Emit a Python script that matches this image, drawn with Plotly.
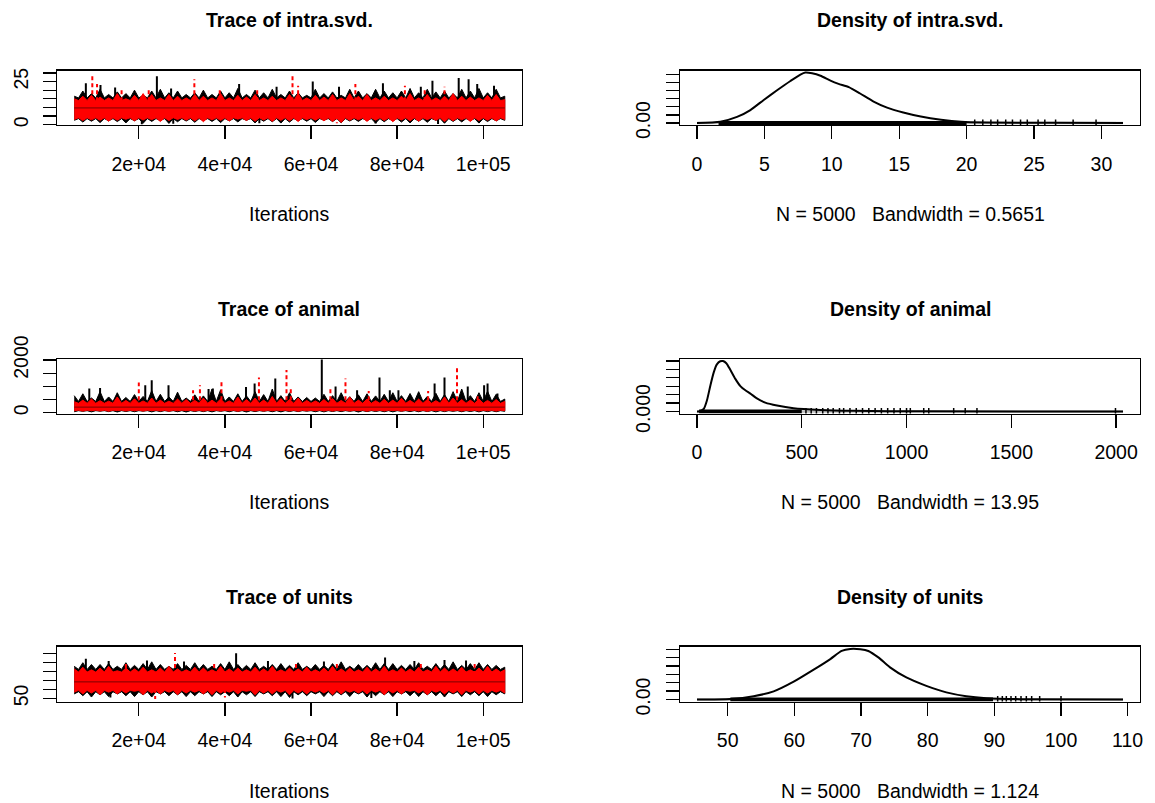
import plotly.graph_objects as go

W, H = 1155, 803

# ---------------- data ----------------
iter_grid = list(range(5000, 105001, 2000))  # thinned iteration grid (51 points)
half_step = 1000

# Trace of intra.svd.  (chain 1 black, chain 2 red): local maxima / minima per grid point
intra_black_top = [16.5, 19.5, 18.0, 20.5, 17.5, 19.0, 18.0, 20.0, 17.0, 19.5, 20.5, 18.5, 19.5, 17.5, 18.5, 20.0, 17.5,
                   19.5, 18.5, 21.0, 17.5, 20.0, 18.5, 20.5, 17.5, 19.5, 18.5, 17.0, 20.5, 18.0, 19.0, 17.0, 20.5, 19.5,
                   18.0, 20.5, 19.5, 18.5, 19.5, 21.0, 18.5, 20.5, 19.0, 19.5, 18.0, 20.5, 19.5, 21.0, 18.5, 20.5, 16.5]
intra_red_top = [15.0, 16.5, 17.0, 16.0, 15.5, 18.0, 15.0, 17.0, 18.0, 17.5, 15.5, 17.5, 16.5, 15.5, 17.5, 16.5, 15.5,
                 18.0, 15.5, 17.0, 16.0, 17.5, 15.5, 16.5, 15.5, 17.5, 18.0, 15.5, 17.0, 16.0, 17.5, 15.5, 18.0, 16.5,
                 17.5, 15.5, 16.5, 15.5, 16.5, 18.0, 15.5, 17.5, 15.5, 16.5, 18.0, 16.5, 16.0, 15.5, 17.0, 17.5, 14.5]
intra_black_bot = [2.5, 1.5, 2.0, 1.2, 2.2, 1.8, 1.0, 2.3, 0.8, 1.9, 2.4, 0.7, 1.7, 2.1, 1.4, 2.4, 1.9, 1.2, 2.2, 1.6,
                   2.5, 1.0, 2.0, 1.7, 0.9, 1.5, 2.3, 2.0, 1.3, 2.6, 1.8, 1.1, 2.1, 1.9, 2.4, 0.9, 1.7, 2.2, 1.5, 1.0,
                   2.0, 1.4, 2.5, 0.8, 1.9, 1.6, 2.4, 0.9, 1.8, 2.2, 2.5]
intra_red_bot = [3.0, 2.4, 2.8, 2.5, 2.0, 2.6, 3.1, 2.2, 2.7, 2.9, 1.8, 2.4, 3.0, 2.6, 2.2, 1.7, 2.8, 2.5, 2.1, 3.2,
                 2.4, 2.0, 2.7, 1.9, 2.5, 2.3, 1.8, 2.9, 2.6, 2.2, 1.8, 1.2, 2.5, 2.8, 1.9, 2.6, 2.4, 1.7, 2.7, 2.3,
                 2.0, 2.9, 2.5, 1.8, 2.2, 2.8, 1.8, 2.4, 2.6, 2.1, 3.0]
intra_black_core = [3.5, 15.5]   # typical band (bottom, top) between the local extremes
intra_red_core = [4.0, 14.0]
intra_black_spike_it = [7700, 11100, 14500, 24200, 27500, 43300, 52000, 60400, 66500, 76700, 85500, 88200, 94300,
                        96600, 98600, 102500, 20700, 28000, 48000, 75000, 89500]
intra_black_spike_val = [24.0, 23.0, 21.5, 28.0, 21.0, 23.5, 22.0, 25.0, 22.0, 24.0, 22.0, 25.4, 27.0, 26.3, 23.5,
                         22.5, 0.3, 0.5, 0.8, 0.6, 0.4]
intra_red_spike_it = [9200, 10300, 16000, 22300, 32900, 38800, 47500, 55700, 57000, 70300, 81800, 86400, 91000, 66000]
intra_red_spike_val = [29.6, 23.5, 21.0, 20.5, 26.3, 21.0, 20.5, 29.6, 22.5, 23.5, 22.5, 21.0, 22.0, 0.8]
intra_means = [9.7, 9.5]

# Trace of animal
animal_black_top = [650, 720, 560, 800, 600, 760, 580, 690, 620, 840, 700, 600, 780, 560, 680, 640, 900, 870, 600,
                    720, 640, 800, 690, 900, 650, 760, 600, 580, 560, 700, 650, 760, 610, 680, 720, 640, 700, 760,
                    650, 730, 800, 620, 740, 690, 800, 900, 650, 760, 820, 700, 520]
animal_red_top = [420, 480, 520, 460, 440, 600, 470, 530, 450, 560, 480, 440, 520, 500, 470, 560, 480, 520, 450, 600,
                  500, 560, 480, 620, 540, 500, 560, 470, 450, 500, 540, 470, 600, 480, 520, 460, 510, 480, 550, 470,
                  520, 500, 460, 600, 560, 500, 480, 520, 470, 500, 430]
animal_black_bot = [40, 55, 35, 60, 45, 30, 50, 40, 60, 35, 45, 55, 40, 30, 50, 45, 35, 55, 40, 50, 30, 45, 55, 40,
                    35, 50, 45, 60, 40, 35, 50, 45, 55, 30, 45, 50, 40, 35, 55, 45, 40, 50, 35, 45, 55, 40, 50, 35,
                    45, 40, 55]
animal_red_bot = [75, 65, 80, 70, 60, 85, 70, 75, 65, 80, 70, 60, 75, 85, 70, 65, 80, 70, 75, 60, 80, 70, 65, 75,
                  85, 70, 60, 75, 80, 70, 65, 75, 70, 80, 60, 75, 70, 85, 65, 75, 70, 60, 80, 70, 75, 65, 80, 70,
                  75, 65, 80]
animal_black_core = [80, 430]
animal_red_core = [100, 360]
animal_black_spike_it = [8500, 11000, 21500, 23000, 26900, 36200, 37200, 44900, 46900, 51700, 62500, 65700, 70700,
                         75900, 78300, 80300, 88700, 91000, 96400, 100200, 101000, 103300]
animal_black_spike_val = [920, 940, 1045, 1235, 1045, 900, 920, 980, 1110, 1300, 2020, 1000, 850, 1340, 850, 850,
                          1110, 1340, 1000, 1045, 1110, 730]
animal_red_spike_it = [20000, 32600, 34200, 39200, 47900, 54300, 55300, 64500, 68000, 73400, 87200, 93900, 98700]
animal_red_spike_val = [1150, 850, 1045, 1200, 1340, 1620, 980, 900, 1300, 830, 830, 1745, 700]
animal_means = [215, 210]

# Trace of units
units_black_top = [86, 90, 88, 88, 89, 86, 90, 87, 89, 91, 88, 86, 89, 87, 90, 88, 86, 89, 91, 88, 87, 90, 86, 88,
                   89, 87, 90, 86, 88, 87, 89, 91, 86, 88, 87, 90, 89, 89, 87, 88, 90, 86, 89, 88, 91, 87, 89, 90,
                   88, 87, 85]
units_red_top = [83, 85, 82, 84, 86, 81, 84, 83, 85, 82, 84, 86, 83, 82, 85, 84, 82, 86, 83, 84, 82, 85, 83, 86, 82,
                 84, 83, 85, 82, 84, 86, 83, 84, 82, 85, 83, 86, 82, 84, 83, 85, 82, 86, 84, 83, 85, 82, 84, 86, 83,
                 82]
units_black_bot = [55, 53, 51.5, 54, 52, 55, 53, 52, 54, 51.5, 55, 53, 54, 52, 53, 55, 52, 54, 53, 51.5, 54, 52, 55,
                   53, 52, 51, 54, 53, 55, 52, 53, 54, 52, 55, 51.5, 53, 54, 52, 55, 53, 52, 54, 53, 51.5, 55, 52, 54,
                   53, 52, 54, 55]
units_red_bot = [57, 55, 56, 54, 57, 55, 56, 58, 54, 56, 55, 57, 54, 56, 57, 55, 54, 56, 57, 55, 58, 54, 56, 55, 57,
                 54, 56, 55, 57, 56, 54, 55, 57, 56, 55, 57, 54, 56, 55, 58, 56, 54, 57, 55, 56, 54, 57, 55, 56, 57,
                 56]
units_black_core = [57.5, 82.5]
units_red_core = [59.0, 79.5]
units_black_spike_it = [7700, 13000, 21900, 30500, 42600, 50000, 63000, 77200, 84000, 91000, 96000, 13400, 55700,
                        74000]
units_black_spike_val = [94.5, 92, 92.5, 91.5, 100.5, 92, 91.5, 96, 92, 93, 92.5, 51, 49.8, 50.5]
units_red_spike_it = [17000, 28400, 37500, 56500, 66000, 85500, 98000, 23800, 40000]
units_red_spike_val = [89, 101, 89, 88.5, 89, 89.5, 90, 49.3, 51]
units_means = [68.5, 68.3]

# Densities
intra_dens_x = [0.0, 1.73, 2.97, 3.96, 4.95, 5.94, 6.93, 7.67, 8.04, 8.54, 9.16, 9.9, 10.5, 11.26, 12.1, 13.1, 14.1,
                15.3, 16.6, 18.1, 19.6, 21.5, 26.5, 31.6]
intra_dens_y = [0.0, 0.003, 0.015, 0.032, 0.057, 0.081, 0.104, 0.120, 0.125, 0.123, 0.117, 0.105, 0.097, 0.089,
                0.073, 0.053, 0.038, 0.026, 0.016, 0.008, 0.003, 0.0012, 0.0004, 0.0]
animal_dens_x = [0, 8, 32, 48, 64, 80, 95, 111, 124, 140, 159, 183, 207, 231, 255, 286, 326, 382, 461, 589, 748,
                 1066, 2033]
animal_dens_y = [0.0, 0.0, 0.0003, 0.00136, 0.0031, 0.00465, 0.0056, 0.00597, 0.006, 0.00574, 0.00496, 0.00388,
                 0.00302, 0.00252, 0.00213, 0.00155, 0.00105, 0.0007, 0.00039, 0.00019, 0.00008, 0.00002, 0.0]
units_dens_x = [45.4, 50.4, 53.9, 56.9, 59.9, 62.9, 65.4, 67.1, 68.4, 69.9, 71.1, 72.6, 74.3, 76.8, 79.8, 82.8,
                85.8, 88.8, 93.8, 109.3]
units_dens_y = [0.0, 0.0006, 0.0039, 0.0097, 0.0213, 0.0357, 0.0484, 0.0581, 0.0605, 0.0601, 0.0581, 0.0504,
                0.0388, 0.0264, 0.0163, 0.0085, 0.0039, 0.0016, 0.0004, 0.0]

# rug of observations: dense stretch + isolated values
intra_rug_dense = [1.6, 20.0]
intra_rug_sparse = [20.6, 21.2, 21.8, 22.3, 22.9, 23.4, 24.0, 24.5, 25.3, 25.8, 26.6, 27.9, 29.6]
animal_rug_dense = [10, 500]
animal_rug_sparse = [520, 545, 570, 600, 625, 650, 680, 700, 730, 760, 790, 820, 850, 880, 910, 940, 970, 1000,
                     1018, 1082, 1106, 1225, 1280, 1336, 1997]
units_rug_dense = [50.4, 89.8]
units_rug_sparse = [90.5, 91.2, 91.8, 92.5, 93.2, 94.0, 94.8, 95.6, 96.8, 100.0]

panel_names = ["intra.svd.", "animal", "units"]
bandwidths = ["0.5651", "13.95", "1.124"]
n_samples = 5000

trace_xticks = [20000, 40000, 60000, 80000, 100000]
trace_xtick_text = ["2e+04", "4e+04", "6e+04", "8e+04", "1e+05"]
trace_yticks = [[0, 5, 10, 15, 20, 25, 30], [0, 500, 1000, 1500, 2000], [50, 60, 70, 80, 90, 100]]
trace_ytick_text = [["0", "", "", "", "", "25", ""], ["0", "", "", "", "2000"], ["50", "", "", "", "", ""]]
trace_yrange = [[-0.2, 31.4], [-27, 2038], [46.5, 108.2]]

dens_xticks = [[0, 5, 10, 15, 20, 25, 30], [0, 500, 1000, 1500, 2000], [50, 60, 70, 80, 90, 100, 110]]
dens_yticks = [[0, 0.02, 0.04, 0.06, 0.08, 0.10, 0.12], [0, 0.001, 0.002, 0.003, 0.004, 0.005, 0.006],
               [0, 0.01, 0.02, 0.03, 0.04, 0.05, 0.06]]
dens_ylabel0 = ["0.00", "0.000", "0.00"]
dens_xrange = [[-1.26, 32.86], [-81, 2114], [42.85, 111.85]]
dens_peak = [0.125, 0.006, 0.061]

traces_data = [
    (intra_black_top, intra_black_bot, intra_black_core, intra_red_top, intra_red_bot, intra_red_core,
     intra_black_spike_it, intra_black_spike_val, intra_red_spike_it, intra_red_spike_val, intra_means),
    (animal_black_top, animal_black_bot, animal_black_core, animal_red_top, animal_red_bot, animal_red_core,
     animal_black_spike_it, animal_black_spike_val, animal_red_spike_it, animal_red_spike_val, animal_means),
    (units_black_top, units_black_bot, units_black_core, units_red_top, units_red_bot, units_red_core,
     units_black_spike_it, units_black_spike_val, units_red_spike_it, units_red_spike_val, units_means),
]
dens_data = [(intra_dens_x, intra_dens_y, intra_rug_dense, intra_rug_sparse),
             (animal_dens_x, animal_dens_y, animal_rug_dense, animal_rug_sparse),
             (units_dens_x, units_dens_y, units_rug_dense, units_rug_sparse)]

# ---------------- layout geometry (pixels) ----------------
row_top = [70.5, 359, 646.5]
row_bot = [125, 413.5, 701.5]
trace_x = [57, 522]
dens_x = [680, 1140]

FONT = "Liberation Sans, Arial, Helvetica, sans-serif"
AX_FS = 19.5
TITLE_FS = 19.5
RED = "#ff0000"

fig = go.Figure()
layout = dict(width=W, height=H, margin=dict(l=0, r=0, t=0, b=0, autoexpand=False), paper_bgcolor="white",
              plot_bgcolor="white", showlegend=False, font=dict(family=FONT, size=AX_FS, color="black"))
annotations = []

axis_common = dict(showgrid=False, zeroline=False, showline=True, mirror=True, linecolor="black", linewidth=1.4,
                   ticks="outside", ticklen=13, tickwidth=1.3, tickcolor="black", automargin=False,
                   tickfont=dict(family=FONT, size=AX_FS, color="black"), fixedrange=True)


def ydom(r):
    return [1 - row_bot[r] / H, 1 - row_top[r] / H]


def spikes(xs, ys, base):
    sx, sy = [], []
    for x, y in zip(xs, ys):
        sx += [x, x, None]
        sy += [base, y, None]
    return sx, sy


def band_polygon(top, bot, core):
    """Outline going through each local extreme and the typical band level in between."""
    xs_top, ys_top, xs_bot, ys_bot = [], [], [], []
    for i, it in enumerate(iter_grid):
        xs_top.append(it)
        ys_top.append(top[i])
        xs_bot.append(it)
        ys_bot.append(bot[i])
        if i < len(iter_grid) - 1:
            xs_top.append(it + half_step)
            ys_top.append(core[1])
            xs_bot.append(it + half_step)
            ys_bot.append(core[0])
    return xs_top + xs_bot[::-1], ys_top + ys_bot[::-1]


for r in range(3):
    ti = 2 * r + 1
    di = 2 * r + 2
    xa_t, ya_t = f"x{ti}", f"y{ti}"
    xa_d, ya_d = f"x{di}", f"y{di}"
    (btop, bbot, bcore, rtop, rbot, rcore, bsx, bsy, rsx, rsy, means) = traces_data[r]

    # black chain band
    px, py = band_polygon(btop, bbot, bcore)
    fig.add_trace(go.Scatter(x=px, y=py, fill="toself", fillcolor="black", mode="lines",
                             line=dict(color="black", width=1), xaxis=xa_t, yaxis=ya_t, hoverinfo="skip"))
    sx, sy = spikes(bsx, bsy, means[0])
    fig.add_trace(go.Scatter(x=sx, y=sy, mode="lines", line=dict(color="black", width=2), xaxis=xa_t, yaxis=ya_t,
                             hoverinfo="skip"))
    # red chain band
    px, py = band_polygon(rtop, rbot, rcore)
    fig.add_trace(go.Scatter(x=px, y=py, fill="toself", fillcolor=RED, mode="lines", line=dict(color=RED, width=1),
                             xaxis=xa_t, yaxis=ya_t, hoverinfo="skip"))
    sx, sy = spikes(rsx, rsy, means[1])
    fig.add_trace(go.Scatter(x=sx, y=sy, mode="lines", line=dict(color=RED, width=2, dash="4px,3px"), xaxis=xa_t,
                             yaxis=ya_t, hoverinfo="skip"))
    # centre line
    fig.add_trace(go.Scatter(x=[iter_grid[0], iter_grid[-1]], y=[means[0], means[0]], mode="lines",
                             line=dict(color="#7a0000", width=1), xaxis=xa_t, yaxis=ya_t, hoverinfo="skip"))

    # density panel
    dx, dy, rd, rs = dens_data[r]
    fig.add_trace(go.Scatter(x=[dx[0], dx[-1]], y=[0, 0], mode="lines", line=dict(color="#bebebe", width=2.5),
                             xaxis=xa_d, yaxis=ya_d, hoverinfo="skip"))
    fig.add_trace(go.Scatter(x=rd, y=[0, 0], mode="lines", line=dict(color="black", width=4), xaxis=xa_d,
                             yaxis=ya_d, hoverinfo="skip"))
    fig.add_trace(go.Scatter(x=rs, y=[0] * len(rs), mode="markers",
                             marker=dict(symbol="line-ns-open", size=5, color="black",
                                         line=dict(color="black", width=1.5)),
                             xaxis=xa_d, yaxis=ya_d, hoverinfo="skip"))
    fig.add_trace(go.Scatter(x=dx, y=dy, mode="lines", line=dict(color="black", width=2, shape="spline",
                                                                   smoothing=0.6),
                             xaxis=xa_d, yaxis=ya_d, hoverinfo="skip"))

    sfx_t = "" if ti == 1 else str(ti)
    sfx_d = str(di)
    layout["xaxis" + sfx_t] = dict(axis_common, domain=[trace_x[0] / W, trace_x[1] / W], anchor=ya_t,
                                   range=[1000, 109000], tickvals=trace_xticks, ticktext=trace_xtick_text,
                                   ticklabelstandoff=8)
    layout["yaxis" + sfx_t] = dict(axis_common, domain=ydom(r), anchor=xa_t, range=trace_yrange[r],
                                   tickvals=trace_yticks[r], ticktext=trace_ytick_text[r], tickangle=-90,
                                   ticklabelstandoff=7)
    pk = dens_peak[r]
    layout["xaxis" + sfx_d] = dict(axis_common, domain=[dens_x[0] / W, dens_x[1] / W], anchor=ya_d,
                                   range=dens_xrange[r], tickvals=dens_xticks[r],
                                   ticktext=[str(v) for v in dens_xticks[r]], ticklabelstandoff=8)
    layout["yaxis" + sfx_d] = dict(axis_common, domain=ydom(r), anchor=xa_d, range=[-0.04 * pk, 1.04 * pk],
                                   tickvals=dens_yticks[r],
                                   ticktext=[dens_ylabel0[r]] + [""] * (len(dens_yticks[r]) - 1), tickangle=-90,
                                   ticklabelstandoff=8)

    # titles and axis labels
    title_y = row_top[r] - 50
    annotations.append(dict(text=f"<b>Trace of {panel_names[r]}</b>", x=(trace_x[0] + trace_x[1]) / 2 / W,
                            y=1 - title_y / H, xref="paper", yref="paper", showarrow=False, xanchor="center",
                            yanchor="middle", font=dict(family=FONT, size=TITLE_FS, color="black")))
    annotations.append(dict(text=f"<b>Density of {panel_names[r]}</b>", x=(dens_x[0] + dens_x[1]) / 2 / W,
                            y=1 - title_y / H, xref="paper", yref="paper", showarrow=False, xanchor="center",
                            yanchor="middle", font=dict(family=FONT, size=TITLE_FS, color="black")))
    lab_y = row_bot[r] + 89
    annotations.append(dict(text="Iterations", x=(trace_x[0] + trace_x[1]) / 2 / W, y=1 - lab_y / H,
                            xref="paper", yref="paper", showarrow=False, xanchor="center", yanchor="middle",
                            font=dict(family=FONT, size=AX_FS, color="black")))
    annotations.append(dict(text=f"N = {n_samples}   Bandwidth = {bandwidths[r]}".replace(" ", "\u00a0"),
                            x=(dens_x[0] + dens_x[1]) / 2 / W, y=1 - lab_y / H, xref="paper", yref="paper",
                            showarrow=False, xanchor="center", yanchor="middle",
                            font=dict(family=FONT, size=AX_FS, color="black")))

layout["annotations"] = annotations
fig.update_layout(**layout)
fig.write_html("out.html", config={"displayModeBar": False, "staticPlot": True},
               post_script="document.body.style.margin='0px';")
